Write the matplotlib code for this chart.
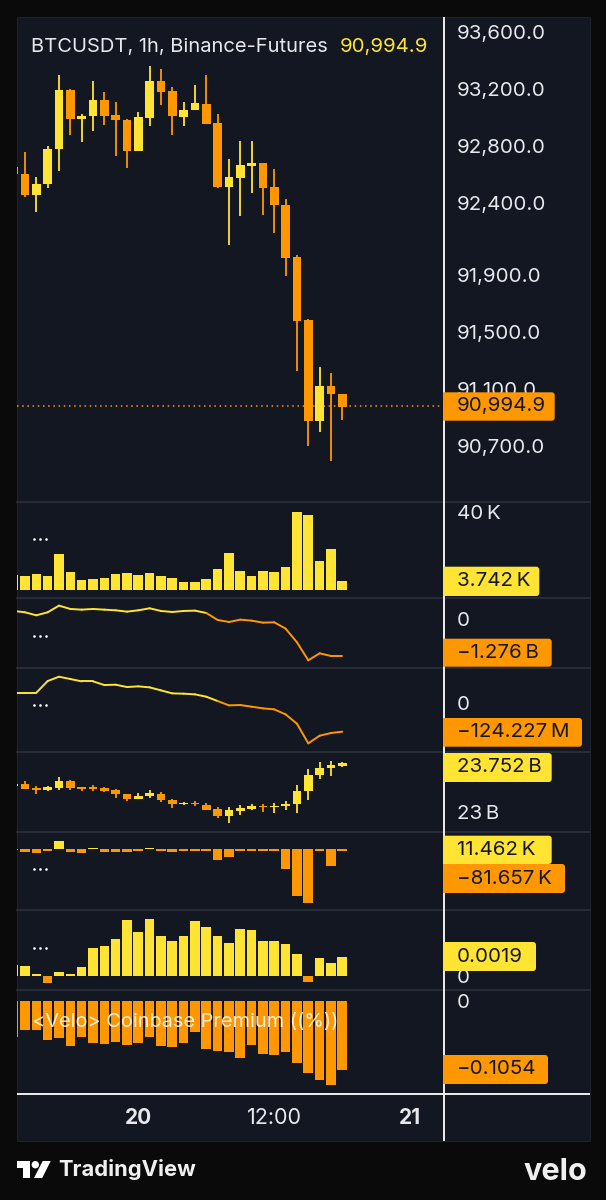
import numpy as np
import matplotlib
matplotlib.use('Agg')
import matplotlib.pyplot as plt
from matplotlib.collections import LineCollection
from matplotlib.patches import FancyBboxPatch, Rectangle, Circle, Polygon

plt.rcParams['font.family'] = ['Inter', 'DejaVu Sans']

YELLOW = '#FFE433'
ORANGE = '#FF9800'
PANEL = '#131722'
SEP = '#2A2E39'
LABEL = '#E6E8EC'

# price candles, one per hour
price_open = [92655, 92608, 92461, 92534, 92779, 93192, 92989, 93010, 93126, 93017,
              92984, 92769, 92998, 93255, 93185, 93007, 93052, 93098, 92961, 92517,
              92580, 92664, 92685, 92513, 92389, 92023, 91584, 90875, 91122, 91068]
price_high = [92655, 92758, 92583, 92802, 93301, 93199, 93026, 93257, 93180, 93108,
              92991, 93042, 93364, 93341, 93213, 93108, 93229, 93301, 93024, 92713,
              92837, 92835, 92685, 92639, 92433, 92037, 91593, 91257, 91211, 91068]
price_low = [92606, 92447, 92340, 92506, 92627, 92881, 92830, 92909, 92951, 92734,
             92650, 92769, 92940, 93087, 92881, 92940, 93052, 92954, 92510, 92109,
             92314, 92473, 92321, 92195, 91894, 91227, 90702, 90800, 90599, 90884]
price_close = [92606, 92461, 92536, 92783, 93192, 92989, 93014, 93126, 93012, 92982,
               92769, 93005, 93255, 93182, 93010, 93056, 93101, 92956, 92517, 92583,
               92667, 92683, 92508, 92387, 92018, 91579, 90875, 91122, 91064, 90977]
price_ticks = [93600, 93200, 92800, 92400, 91900, 91500, 91100, 90700]
last_price = 90985

# volume in K
volume = [7.4, 6.9, 7.9, 6.9, 18.3, 9.1, 5.0, 5.7, 6.0, 8.1, 8.8, 7.4, 8.8, 6.9, 6.2,
          3.8, 3.8, 5.7, 10.7, 19.1, 9.5, 7.1, 9.8, 9.3, 11.5, 40.0, 38.4, 15.0, 20.8, 4.5]

# cumulative lines, B and M
line_a = [0.29, 0.244, 0.139, 0.244, 0.476, 0.36, 0.336, 0.36, 0.336, 0.313,
          0.267, 0.313, 0.383, 0.29, 0.255, 0.29, 0.302, 0.22, -0.023, -0.093,
          -0.012, -0.046, -0.116, -0.104, -0.325, -0.8, -1.427, -1.183, -1.276, -1.276]
line_b = [42.8, 42.8, 42.8, 92.8, 111.4, 101.4, 91.4, 91.4, 75.7, 77.1,
          67.1, 70.0, 65.7, 52.8, 40.0, 38.6, 35.7, 25.7, 7.1, -11.4,
          -10.0, -17.1, -24.3, -28.6, -50.0, -90.0, -174.2, -141.4, -130.0, -124.2]

# open interest candles in B
oi_open = [23.408, 23.435, 23.382, 23.339, 23.376, 23.493, 23.392, 23.392, 23.371, 23.339,
           23.281, 23.207, 23.244, 23.281, 23.186, 23.117, 23.143, 23.111, 23.042, 22.936,
           23.011, 23.048, 23.095, 23.080, 23.085, 23.117, 23.323, 23.578, 23.694, 23.731]
oi_high = [23.435, 23.488, 23.408, 23.413, 23.557, 23.504, 23.398, 23.424, 23.392, 23.355,
           23.286, 23.292, 23.339, 23.313, 23.201, 23.159, 23.164, 23.143, 23.069, 23.074,
           23.106, 23.127, 23.127, 23.138, 23.170, 23.424, 23.678, 23.790, 23.806, 23.784]
oi_low = [23.408, 23.360, 23.286, 23.329, 23.339, 23.339, 23.329, 23.334, 23.313, 23.223,
          23.170, 23.207, 23.217, 23.159, 23.064, 23.101, 23.095, 23.032, 22.905, 22.815,
          22.952, 23.021, 22.995, 22.979, 23.032, 22.979, 23.191, 23.525, 23.572, 23.716]
oi_close = [23.435, 23.360, 23.350, 23.387, 23.493, 23.376, 23.360, 23.360, 23.334, 23.286,
            23.201, 23.244, 23.292, 23.180, 23.127, 23.138, 23.117, 23.032, 22.936, 23.021,
            23.058, 23.090, 23.080, 23.095, 23.127, 23.329, 23.588, 23.694, 23.742, 23.769]

# liquidation style bars in K
delta_bars = [-1.5, -4, -5, -3, 13.3, -4, -5, 2, -3.5, -3.5, -3.5, -3, 2, -3, -3.5,
              -2.5, -2.5, -2.5, -15.8, -11.2, -2.5, -2.5, -3, -2.5, -30.1, -70.9, -81.6, -3, -25.5, -3]

# funding in units of 1e-4
funding = [10.8, 9.8, 2.3, -6.6, 3.9, 2.0, 9.2, 27.2, 29.2, 36.4, 54.7, 43.6, 55.7, 39.0, 34.1,
           39.0, 54.1, 48.5, 39.0, 32.8, 46.2, 45.2, 34.7, 34.1, 31.8, 21.6, -5.6, 17.4, 12.8, 19.0]

# coinbase premium in %
premium = [-0.0544, -0.0449, -0.0444, -0.0595, -0.0559, -0.0685, -0.0544, -0.0645, -0.0655, -0.0620,
           -0.0670, -0.0645, -0.0544, -0.0690, -0.0706, -0.0635, -0.0474, -0.0731, -0.0766, -0.0776,
           -0.0867, -0.0670, -0.0806, -0.0822, -0.0771, -0.0942, -0.1099, -0.1200, -0.1270, -0.1054]

time_ticks = [11, 23, 35]
time_labels = ['20', '12:00', '21']

W, H = 606, 1200
fig = plt.figure(figsize=(W / 100, H / 100), dpi=100, facecolor='#0A0A0A')

LEFT, AXIS_X, RIGHT, TOP, BOTTOM = 17, 443.7, 589.5, 17, 1141
X_LIM = (0.294, 37.95)
hours = np.arange(30)


def pane(y0, y1, ylim, ticks=(), labels=()):
    ax = fig.add_axes([LEFT / W, 1 - y1 / H, (AXIS_X - LEFT) / W, (y1 - y0) / H])
    ax.set_facecolor('none')
    ax.set_xlim(*X_LIM)
    ax.set_ylim(*ylim)
    for s in ax.spines.values():
        s.set_visible(False)
    ax.set_xticks([])
    ax.yaxis.tick_right()
    ax.set_yticks(list(ticks))
    ax.set_yticklabels(list(labels), color=LABEL, fontsize=14.8, ha='left')
    ax.tick_params(axis='y', length=0, pad=9.5)
    return ax


def candles(ax, o, h, l, c, lw=1.3, width=0.77):
    o, h, l, c = map(np.asarray, (o, h, l, c))
    colors = [YELLOW if cc >= oo else ORANGE for oo, cc in zip(o, c)]
    ax.vlines(hours, l, h, colors=colors, linewidth=lw, zorder=2)
    ax.bar(hours, np.abs(c - o), bottom=np.minimum(o, c), width=width, color=colors, zorder=3)


def sign_line(ax, values):
    pts = np.column_stack([hours, values])
    segs = np.stack([pts[:-1], pts[1:]], axis=1)
    colors = [YELLOW if v >= 0 else ORANGE for v in values[1:]]
    ax.add_collection(LineCollection(segs, colors=colors, linewidth=1.4, capstyle='round'))


def bars(ax, values):
    colors = [YELLOW if v >= 0 else ORANGE for v in values]
    ax.bar(hours, values, width=0.85, color=colors, zorder=3)


# price
ax_price = pane(17, 501.7, (90312, 93705), price_ticks,
                [f'{p:,.1f}' for p in price_ticks])
candles(ax_price, price_open, price_high, price_low, price_close)
ax_price.axhline(last_price, color=ORANGE, linewidth=1.1, linestyle=(0, (1, 2.4)), zorder=1)

# volume
ax_vol = pane(501.7, 597.7, (-4.14, 45.5), [40], ['40\u2009K'])
bars(ax_vol, volume)

ax_a = pane(597.7, 667.7, (-1.684, 0.752), [0], ['0'])
sign_line(ax_a, line_a)

ax_b = pane(667.7, 751.7, (-210, 150), [0], ['0'])
sign_line(ax_b, line_b)

ax_oi = pane(751.7, 831.7, (22.682, 23.954), [23], ['23\u2009B'])
candles(ax_oi, oi_open, oi_high, oi_low, oi_close)

ax_delta = pane(831.7, 910.3, (-93.3, 26.9))
bars(ax_delta, delta_bars)

ax_fund = pane(910.3, 990, (-13.8, 64.6), [0], ['0'])
bars(ax_fund, funding)

ax_prem = pane(990, 1093.7, (-0.1406, 0.0162), [0], ['0'])
ax_prem.bar(hours, premium, width=0.85, color=ORANGE, zorder=3)

# time axis
ax_time = pane(1093.7, 1141, (0, 1))
for t, lab in zip(time_ticks, time_labels):
    ax_time.text(t, 0.49, lab, color=LABEL, ha='center', va='center',
                 fontsize=15.5 if lab == '12:00' else 15,
                 fontweight='bold' if lab != '12:00' else 'normal')

# overlay in pixel units for frame, tags and footer
ov = fig.add_axes([0, 0, 1, 1], zorder=10)
ov.set_xlim(0, W)
ov.set_ylim(H, 0)
ov.axis('off')
ov.patch.set_alpha(0)

bg = fig.add_axes([0, 0, 1, 1], zorder=-1)
bg.set_xlim(0, W)
bg.set_ylim(H, 0)
bg.axis('off')
bg.add_patch(Rectangle((LEFT, TOP), RIGHT - LEFT, BOTTOM - TOP, facecolor=PANEL,
                       edgecolor='#1E222C', linewidth=0.8))
for y in [501.7, 597.7, 667.7, 751.7, 831.7, 910.3, 990]:
    bg.plot([LEFT, RIGHT], [y, y], color=SEP, linewidth=1.3)

ov.plot([AXIS_X, AXIS_X], [TOP, BOTTOM], color='#EDEDED', linewidth=1.4,
        solid_capstyle='butt', zorder=0.5)
ov.plot([LEFT, RIGHT], [1093.7, 1093.7], color='#EDEDED', linewidth=1.4,
        solid_capstyle='butt', zorder=0.5)

# legends
ov.text(31, 47, 'BTCUSDT, 1h, Binance-Futures', color=LABEL, fontsize=14.5, va='center')
ov.text(340, 47, '90,994.9', color=YELLOW, fontsize=14.7, va='center')
ov.text(32, 1022, '<Velo> Coinbase Premium ((%))', color='white', alpha=0.85,
        fontsize=14.4, va='center')
for y in [538.5, 635.5, 705, 869, 947.5]:
    ov.scatter([33.5, 39.5, 45.5], [y] * 3, s=3.5, color='white', linewidths=0)

# value tags on the price scale
tags = [
    (392.3, 420.7, 554.7, '90,994.9', ORANGE),
    (566.7, 596, 539.3, '3.742\u2009K', YELLOW),
    (638.7, 666.7, 551.7, '\u22121.276\u2009B', ORANGE),
    (718, 746.7, 582, '\u2212124.227\u2009M', ORANGE),
    (753, 782, 551.7, '23.752\u2009B', YELLOW),
    (835.7, 864, 551.7, '11.462\u2009K', YELLOW),
    (864, 893, 565, '\u221281.657\u2009K', ORANGE),
    (942, 971, 536, '0.0019', YELLOW),
    (1055, 1084, 548, '\u22120.1054', ORANGE),
]
for y0, y1, x1, text, color in tags:
    box = FancyBboxPatch((436, y0 + 2), x1 - 438, y1 - y0 - 4,
                         boxstyle='round,pad=2,rounding_size=3',
                         facecolor=color, edgecolor='none', zorder=1)
    ov.add_patch(box)
    box.set_clip_path(Rectangle((443, y0 - 1), x1 - 442, y1 - y0 + 2, transform=ov.transData))
    ov.text(457, (y0 + y1) / 2, text, color='#131722', fontsize=14.8, va='center', zorder=2)

# footer
ov.add_patch(Rectangle((17.3, 1161), 12.7, 6.8, color='white', linewidth=0))
ov.add_patch(Rectangle((23.3, 1161), 6.7, 17, color='white', linewidth=0))
ov.add_patch(Circle((35.3, 1164.7), 3.7, color='white', linewidth=0))
ov.add_patch(Polygon([(42.7, 1161), (50.7, 1161), (42.2, 1178), (34, 1178)], color='white', linewidth=0))
ov.text(58, 1170, 'TradingView', color='#F0F0F0', fontsize=15.8, fontweight='bold', va='center')
ov.text(524, 1172, 'velo', color='#F0F0F0', fontsize=22, fontweight='bold', va='center')

fig.savefig('out.png', dpi=100, facecolor=fig.get_facecolor())
